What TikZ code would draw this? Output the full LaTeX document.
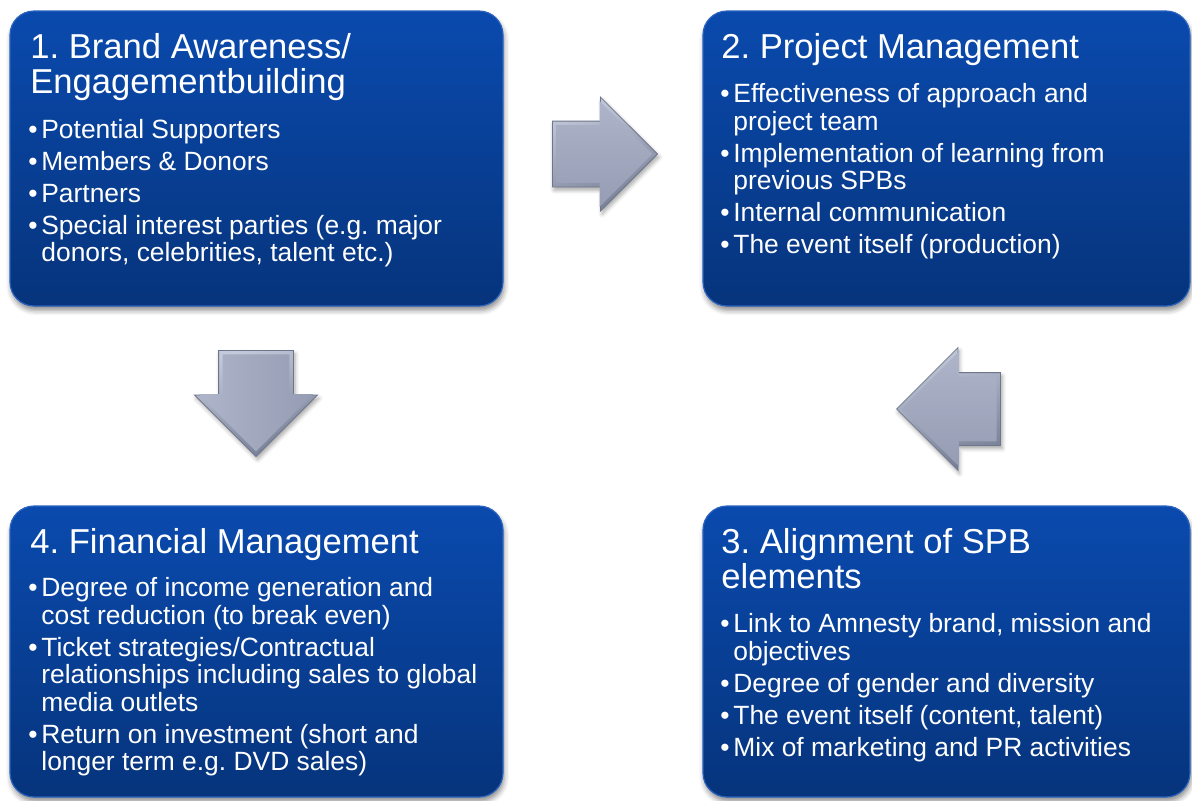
\documentclass[tikz,border=0pt]{standalone}
\usepackage{fontspec}
\setmainfont{Liberation Sans}
\usetikzlibrary{shapes.arrows,shadows.blur}

% panel and arrow colours
\definecolor{boxtop}{HTML}{0A4AAE}
\definecolor{boxbot}{HTML}{06347C}
\definecolor{boxedge}{HTML}{2A63BE}
\definecolor{arrowlight}{HTML}{C3C9DA}
\definecolor{arrowdark}{HTML}{767E95}
\definecolor{arrowedge}{HTML}{6E768C}
\definecolor{facetop}{HTML}{AEB5CA}
\definecolor{facebot}{HTML}{959CB3}

% text helpers
\frenchspacing
\newlength{\bulw}\setlength{\bulw}{6.5pt}
\newcommand{\headfont}{\fontsize{17.3pt}{17.75pt}\selectfont}
\newcommand{\itemfont}{\fontsize{13.2pt}{13.75pt}\selectfont}
\newcommand{\bitem}[1]{\par\hangindent=\bulw\hangafter=1\noindent\makebox[\bulw][l]{\textbullet}#1}
\newcommand{\itemlist}[1]{\parbox[t]{300pt}{\itemfont\raggedright\setlength{\parskip}{2.25pt}#1}}
\newcommand{\headtext}[1]{\parbox[t]{300pt}{\headfont\raggedright #1}}

\begin{document}
\begin{tikzpicture}[x=0.5pt,y=-0.5pt,
  panel/.style={rounded corners=12pt, top color=boxtop, bottom color=boxbot,
    draw=boxedge, line width=0.6pt, inner sep=0pt,
    blur shadow={shadow xshift=0.6pt, shadow yshift=-2.2pt,
      shadow blur radius=2.5pt, shadow opacity=45}},
  heading/.style={anchor=base west, inner sep=0pt, text=white},
  points/.style={anchor=base west, inner sep=0pt, text=white},
  blockarrow/.style={single arrow, single arrow head extend=12pt, anchor=tip,
    inner xsep=0pt, text height=0pt, text depth=0pt,
    draw=arrowedge, line width=0.4pt,
    top color=arrowlight, bottom color=arrowdark, shading angle=20,
    blur shadow={shadow xshift=0.8pt, shadow yshift=-1.6pt,
      shadow blur radius=2pt, shadow opacity=35}},
  arrowface/.style={single arrow, single arrow head extend=12pt, anchor=tip,
    inner xsep=0pt, text height=0pt, text depth=0pt, draw=none,
    top color=facetop, bottom color=facebot},
  ]
\useasboundingbox (0,0) rectangle (1192,800);

% the four panels
\node[panel, minimum width=246.5pt, minimum height=147.5pt] (b1) at (256.5,158.5) {};
\node[panel, minimum width=243.5pt, minimum height=147.5pt] (b2) at (946.5,158.5) {};
\node[panel, minimum width=246.5pt, minimum height=145.5pt] (b4) at (256.5,651.5) {};
\node[panel, minimum width=243.5pt, minimum height=145.5pt] (b3) at (946.5,651.5) {};

% panel 1
\node[heading] (h1) at (30,58) {\headtext{1. Brand Awareness/\newline Engagementbuilding}};
\node[points] (p1) at (28,138) {\itemlist{%
  \bitem{Potential Supporters}%
  \bitem{Members \& Donors}%
  \bitem{Partners}%
  \bitem{Special interest parties (e.g. major\newline donors, celebrities, talent etc.)}}};

% panel 2
\node[heading] (h2) at (721,58) {\headtext{2. Project Management}};
\node[points] (p2) at (720,102.5) {\itemlist{%
  \bitem{Effectiveness of approach and\newline project team}%
  \bitem{Implementation of learning from\newline previous SPBs}%
  \bitem{Internal communication}%
  \bitem{The event itself (production)}}};

% panel 4
\node[heading] (h4) at (30,553) {\headtext{4. Financial Management}};
\node[points] (p4) at (28,596.5) {\itemlist{%
  \bitem{Degree of income generation and\newline cost reduction (to break even)}%
  \bitem{Ticket strategies/Contractual\newline relationships including sales to global\newline media outlets}%
  \bitem{Return on investment (short and\newline longer term e.g. DVD sales)}}};

% panel 3
\node[heading] (h3) at (721,553) {\headtext{3. Alignment of SPB\newline elements}};
\node[points] (p3) at (720,632.5) {\itemlist{%
  \bitem{Link to Amnesty brand, mission and\newline objectives}%
  \bitem{Degree of gender and diversity}%
  \bitem{The event itself (content, talent)}%
  \bitem{Mix of marketing and PR activities}}};

% block arrows between panels: 1 -> 2
\node[blockarrow, inner ysep=16.25pt, minimum height=52.5pt] (a12) at (658,154) {};
\node[arrowface, inner ysep=14.25pt, minimum height=48pt] (a12f) at (653,154) {};
% 1 -> 4
\node[blockarrow, rotate=-90, inner ysep=18.5pt, minimum height=53pt] (a14) at (256,457) {};
\node[arrowface, rotate=-90, left color=facetop, right color=facebot,
  inner ysep=16.5pt, minimum height=48.5pt] (a14f) at (256,452) {};
% 3 -> 2
\node[blockarrow, shape border rotate=180, inner ysep=18pt, minimum height=52pt,
  single arrow head extend=12.5pt] (a32) at (896,409) {};
\node[arrowface, shape border rotate=180, inner ysep=16pt, minimum height=47.5pt,
  single arrow head extend=12.5pt] (a32f) at (901,409) {};
\end{tikzpicture}
\end{document}
